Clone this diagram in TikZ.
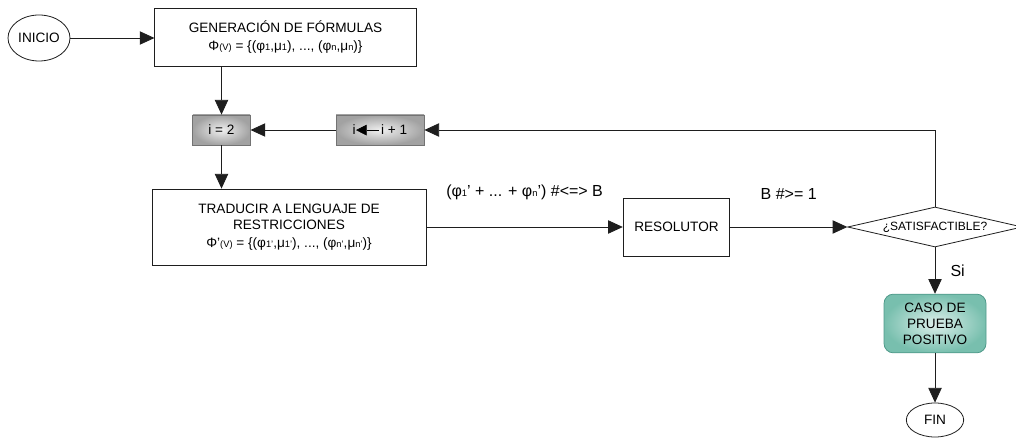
\documentclass[tikz,border=0pt]{standalone}
\usepackage{fontspec}
\setmainfont{Liberation Sans}
\usetikzlibrary{arrows.meta,shapes.geometric}
\definecolor{linegray}{HTML}{1E1E1E}
\definecolor{boxgray}{HTML}{A2A2A2}
\definecolor{tealedge}{HTML}{4F9A8A}
\definecolor{tealfill}{HTML}{78BFAE}
\newcommand{\sbs}[1]{{\fontsize{7}{8}\selectfont #1}}

\begin{document}
\begin{tikzpicture}[x=0.75pt, y=-0.75pt, font=\fontsize{10.2}{12}\selectfont,
  flow/.style={draw=linegray, line width=0.6pt, -{Triangle[length=11pt,width=10pt]}},
  wbox/.style={draw=linegray, fill=white, line width=0.6pt, align=center, inner sep=2pt},
  gbox/.style={draw=black!55, line width=0.6pt, inner color=black!6, outer color=boxgray, minimum height=22.5pt, inner sep=2pt},
  term/.style={draw=linegray, ellipse, fill=white, line width=0.6pt, inner sep=0pt},
  lbl/.style={font=\fontsize{12}{14}\selectfont}]
\useasboundingbox (0,0) rectangle (1016,438);

\node[term, minimum width=46.5pt, minimum height=34.5pt] at (39,38) (inicio) {INICIO};
\node[wbox, minimum width=196pt, minimum height=43.5pt] at (285.5,37) (gen) {
  GENERACIÓN DE FÓRMULAS\\[1pt]
  Φ\sbs{(V)} = \{(φ\sbs{1},μ\sbs{1}), ..., (φ\sbs{n},μ\sbs{n})\}
};
\node[gbox, minimum width=43pt] at (221.5,130) (init) {i = 2};
\node[gbox, minimum width=66pt] at (380,130) (incr) {i\tikz[baseline=-0.6ex]\draw[-{Triangle[length=8pt,width=8pt]}] (0pt,0pt) -- (-17pt,0pt);\,i + 1};
\node[wbox, minimum width=205.5pt, minimum height=57pt] at (289,227) (trad) {
  TRADUCIR A LENGUAJE DE\\
  RESTRICCIONES\\[1pt]
  Φ'\sbs{(V)} = \{(φ\sbs{1'},μ\sbs{1'}), ..., (φ\sbs{n'},μ\sbs{n'})\}
};
\node[wbox, minimum width=80pt, minimum height=43.5pt] at (676.5,227) (res) {RESOLUTOR};
\node[draw=linegray, diamond, aspect=4.3, fill=white, line width=0.6pt, minimum width=131pt, minimum height=30pt,
      inner sep=0pt, font=\fontsize{9}{10}\selectfont] at (935,227) (sat) {¿SATISFACTIBLE?};
\node[draw=tealedge, rounded corners=7pt, inner color=tealfill!25, outer color=tealfill, line width=0.6pt,
      align=center, minimum width=76.5pt, minimum height=44pt, inner sep=2pt] at (935,323.5) (caso) {CASO DE\\PRUEBA\\POSITIVO};
\node[term, minimum width=43pt, minimum height=25.5pt] at (935,420) (fin) {FIN};

\draw[flow] (inicio.east) -- (inicio.east -| gen.west);
\draw[flow] (init |- gen.south) -- (init);
\draw[flow] (init) -- (trad.north -| init);
\draw[flow] (trad) -- (res) node[lbl, midway, above=17pt] {(φ\sbs{1}' + ... + φ\sbs{n}') \#<=> B};
\draw[flow] (res) -- (sat) node[lbl, midway, above=17pt] {B \#>= 1};
\draw[flow] (sat.north) |- (incr);
\draw[flow] (incr) -- (init);
\draw[flow] (sat) -- (caso) node[lbl, midway, right=8pt] {Si};
\draw[flow] (caso) -- (fin);
\end{tikzpicture}
\end{document}
